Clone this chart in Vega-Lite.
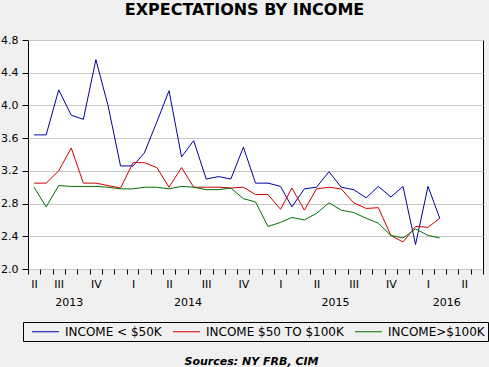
{
  "$schema": "https://vega.github.io/schema/vega-lite/v6.json",
  "width": 455,
  "height": 229,
  "autosize": {"type": "none"},
  "padding": {"left": 28, "top": 40, "right": 6, "bottom": 98},
  "background": "#f0f0f0",
  "title": {"text": "EXPECTATIONS BY INCOME", "font": "DejaVu Sans", "fontSize": 16, "fontWeight": "bold", "color": "black", "anchor": "middle", "dx": -11, "offset": 16},
  "config": {
    "view": {"stroke": "black", "strokeWidth": 1, "fill": "white"},
    "font": "DejaVu Sans",
    "axis": {"labelFont": "DejaVu Sans", "labelFontSize": 11, "labelColor": "black", "tickColor": "black", "domainColor": "black"}
  },
  "data": {"values": [
    {"month": "2013-06-16", "lt50": 3.64, "mid": 3.05, "gt100": 3.00},
    {"month": "2013-07-16", "lt50": 3.64, "mid": 3.05, "gt100": 2.76},
    {"month": "2013-08-16", "lt50": 4.19, "mid": 3.20, "gt100": 3.02},
    {"month": "2013-09-16", "lt50": 3.88, "mid": 3.48, "gt100": 3.01},
    {"month": "2013-10-16", "lt50": 3.83, "mid": 3.05, "gt100": 3.01},
    {"month": "2013-11-16", "lt50": 4.56, "mid": 3.05, "gt100": 3.01},
    {"month": "2013-12-16", "lt50": 4.00, "mid": 3.02, "gt100": 3.00},
    {"month": "2014-01-16", "lt50": 3.26, "mid": 2.99, "gt100": 2.98},
    {"month": "2014-02-16", "lt50": 3.26, "mid": 3.30, "gt100": 2.98},
    {"month": "2014-03-16", "lt50": 3.42, "mid": 3.30, "gt100": 3.00},
    {"month": "2014-04-16", "lt50": 3.80, "mid": 3.24, "gt100": 3.00},
    {"month": "2014-05-16", "lt50": 4.18, "mid": 3.00, "gt100": 2.98},
    {"month": "2014-06-16", "lt50": 3.37, "mid": 3.24, "gt100": 3.01},
    {"month": "2014-07-16", "lt50": 3.57, "mid": 3.00, "gt100": 3.00},
    {"month": "2014-08-16", "lt50": 3.10, "mid": 3.00, "gt100": 2.97},
    {"month": "2014-09-16", "lt50": 3.13, "mid": 3.00, "gt100": 2.97},
    {"month": "2014-10-16", "lt50": 3.10, "mid": 2.99, "gt100": 2.99},
    {"month": "2014-11-16", "lt50": 3.49, "mid": 3.00, "gt100": 2.86},
    {"month": "2014-12-16", "lt50": 3.05, "mid": 2.91, "gt100": 2.82},
    {"month": "2015-01-16", "lt50": 3.05, "mid": 2.91, "gt100": 2.52},
    {"month": "2015-02-16", "lt50": 3.01, "mid": 2.73, "gt100": 2.57},
    {"month": "2015-03-16", "lt50": 2.76, "mid": 2.99, "gt100": 2.63},
    {"month": "2015-04-16", "lt50": 2.98, "mid": 2.72, "gt100": 2.60},
    {"month": "2015-05-16", "lt50": 3.00, "mid": 2.98, "gt100": 2.68},
    {"month": "2015-06-16", "lt50": 3.19, "mid": 3.00, "gt100": 2.81},
    {"month": "2015-07-16", "lt50": 3.00, "mid": 2.98, "gt100": 2.72},
    {"month": "2015-08-16", "lt50": 2.97, "mid": 2.81, "gt100": 2.69},
    {"month": "2015-09-16", "lt50": 2.87, "mid": 2.74, "gt100": 2.62},
    {"month": "2015-10-16", "lt50": 3.01, "mid": 2.75, "gt100": 2.56},
    {"month": "2015-11-16", "lt50": 2.88, "mid": 2.41, "gt100": 2.41},
    {"month": "2015-12-16", "lt50": 3.01, "mid": 2.33, "gt100": 2.38},
    {"month": "2016-01-16", "lt50": 2.30, "mid": 2.52, "gt100": 2.49},
    {"month": "2016-02-16", "lt50": 3.01, "mid": 2.51, "gt100": 2.41},
    {"month": "2016-03-16", "lt50": 2.62, "mid": 2.62, "gt100": 2.38}
  ]},
  "transform": [{"fold": ["lt50", "mid", "gt100"], "as": ["series", "value"]}],
  "layer": [
    {
      "mark": {"type": "line", "strokeWidth": 1},
      "encoding": {
        "x": {
          "field": "month", "type": "temporal",
          "scale": {"type": "utc", "nice": false, "domain": [{"year": 2013, "month": 6, "date": 1, "utc": true}, {"year": 2016, "month": 7, "date": 1, "utc": true}]},
          "axis": {
            "orient": "bottom",
            "title": null, "grid": false, "domain": false,
            "tickCount": {"interval": "month", "step": 1},
            "tickSize": 5,
            "labelExpr": "utcmonth(datum.value) == 1 ? 'I' : utcmonth(datum.value) == 4 ? 'II' : utcmonth(datum.value) == 7 ? 'III' : utcmonth(datum.value) == 10 ? 'IV' : (utcyear(datum.value) == 2013 && utcmonth(datum.value) == 5) ? 'II' : ''",
            "labelOffset": 6,
            "labelPadding": 4,
            "labelOverlap": false,
            "labelFlush": false,
            "labelBound": false
          }
        },
        "y": {
          "field": "value", "type": "quantitative",
          "scale": {"domain": [2.0, 4.8], "nice": false, "zero": false},
          "axis": {"title": null, "values": [2.0, 2.4, 2.8, 3.2, 3.6, 4.0, 4.4, 4.8], "format": ".1f", "tickSize": 6, "labelPadding": 4, "grid": true, "gridColor": "#c8c8c8", "domain": false}
        },
        "color": {
          "field": "series", "type": "nominal",
          "scale": {"domain": ["lt50", "mid", "gt100"], "range": ["#0000a8", "#d00000", "#007000"]},
          "legend": {
            "title": null, "orient": "none", "legendX": -5, "legendY": 282,
            "direction": "horizontal", "columns": 3,
            "symbolType": "M-2.25,0H2.25", "symbolSize": 144, "symbolStrokeWidth": 1, "symbolOffset": 13,
            "labelFont": "DejaVu Sans", "labelFontSize": 12, "labelColor": "black", "labelLimit": 300,
            "labelOffset": 13, "columnPadding": 5, "padding": 3, "strokeColor": "black",
            "labelExpr": "datum.label == 'lt50' ? 'INCOME < $50K' : datum.label == 'mid' ? 'INCOME $50 TO $100K' : 'INCOME>$100K'"
          }
        }
      }
    },
    {
      "mark": {"type": "rule", "opacity": 0},
      "encoding": {
        "x": {
          "field": "month", "type": "temporal",
          "axis": {
            "orient": "bottom",
            "title": "Sources:  NY FRB, CIM",
            "titleFont": "DejaVu Sans", "titleFontSize": 11, "titleFontWeight": "bold", "titleFontStyle": "italic", "titleColor": "black",
            "titleBaseline": "alphabetic", "titleX": 223, "titleY": 95,
            "values": [{"year": 2013, "month": 9, "date": 10, "utc": true}, {"year": 2014, "month": 7, "date": 1, "utc": true}, {"year": 2015, "month": 7, "date": 1, "utc": true}, {"year": 2016, "month": 4, "date": 1, "utc": true}],
            "labelExpr": "'' + utcyear(datum.value)",
            "ticks": false, "domain": false, "grid": false,
            "labelPadding": 27, "labelOverlap": false, "labelFlush": false, "labelBound": false
          }
        }
      }
    }
  ],
  "resolve": {"axis": {"x": "independent"}}
}
